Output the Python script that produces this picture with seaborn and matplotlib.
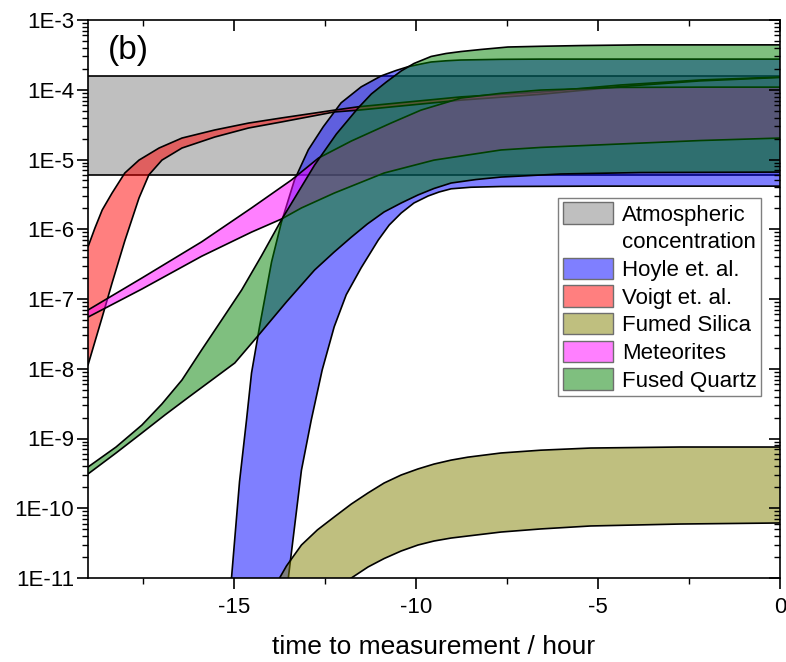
import numpy as np
import matplotlib
matplotlib.use("Agg")
import matplotlib.pyplot as plt
from matplotlib.patches import Patch
from matplotlib.ticker import FixedLocator, NullFormatter, LogLocator, FixedFormatter
import seaborn as sns

# ---- band edges: time to measurement (h) and concentration ----
atm_x = [-19.0, 0.0]
atm_low = [6.0e-6, 6.0e-6]
atm_high = [1.6e-4, 1.6e-4]

hoyle_hi_x = [-15.22, -15.06, -14.84, -14.65, -14.51, -14.29, -13.96, -13.69, -13.33, -12.95,
              -12.54, -12.05, -11.50, -10.95, -10.54, -10.21, -9.86, -9.58, -9.17, -8.76,
              -7.66, -6.57, 0.0]
hoyle_hi = [9.3e-13, 1.0e-11, 2.4e-10, 1.8e-9, 8.7e-9, 4.0e-8, 3.4e-7, 1.26e-6, 5.1e-6, 1.38e-5,
            2.95e-5, 6.5e-5, 1.10e-4, 1.58e-4, 1.89e-4, 2.14e-4, 2.34e-4, 2.5e-4, 2.6e-4, 2.67e-4,
            2.73e-4, 2.75e-4, 2.75e-4]
hoyle_lo_x = [-13.74, -13.50, -13.14, -12.87, -12.57, -12.24, -11.91, -11.50, -11.03, -10.73,
              -10.40, -10.05, -9.66, -9.36, -9.03, -8.49, -7.66, -4.93, 0.0]
hoyle_lo = [9.3e-13, 1.0e-11, 3.5e-10, 1.84e-9, 9.6e-9, 4.0e-8, 1.15e-7, 2.8e-7, 7.0e-7, 1.15e-6,
            1.71e-6, 2.38e-6, 3.0e-6, 3.42e-6, 3.8e-6, 4.0e-6, 4.1e-6, 4.15e-6, 4.15e-6]

voigt_hi_x = [-19.0, -18.81, -18.61, -18.34, -17.99, -17.60, -17.05, -16.42, -15.52, -14.59,
              -13.69, -12.24, -11.58, -8.76, -6.57, -4.38, -2.19, 0.0]
voigt_hi = [5.6e-7, 1.04e-6, 1.89e-6, 3.3e-6, 6.4e-6, 9.8e-6, 1.46e-5, 2.03e-5, 2.65e-5, 3.33e-5,
            3.94e-5, 5.1e-5, 5.7e-5, 7.9e-5, 9.3e-5, 1.17e-4, 1.38e-4, 1.52e-4]
voigt_lo_x = [-19.0, -18.61, -18.34, -17.99, -17.60, -17.33, -16.97, -16.42, -15.52, -14.59,
              -13.69, -12.24, -11.58, -8.76, -6.57, -4.38, -2.19, 0.0]
voigt_lo = [1.13e-8, 5.5e-8, 1.69e-7, 6.8e-7, 2.8e-6, 6.0e-6, 9.8e-6, 1.46e-5, 2.1e-5, 2.83e-5,
            3.45e-5, 4.8e-5, 5.1e-5, 7.1e-5, 8.6e-5, 1.11e-4, 1.34e-4, 1.50e-4]

fumed_hi_x = [-13.96, -13.55, -13.14, -12.70, -12.24, -11.77, -11.31, -10.87, -10.40, -9.94,
              -9.50, -9.03, -8.57, -7.66, -6.57, -5.20, -2.74, 0.0]
fumed_hi = [6.3e-12, 1.49e-11, 2.97e-11, 4.9e-11, 7.5e-11, 1.15e-10, 1.66e-10, 2.3e-10, 3.0e-10,
            3.66e-10, 4.3e-10, 4.9e-10, 5.4e-10, 6.2e-10, 6.8e-10, 7.3e-10, 7.55e-10, 7.55e-10]
fumed_lo_x = [-13.96, -13.14, -12.24, -11.77, -11.31, -10.87, -10.40, -9.94, -9.50, -9.03,
              -8.57, -7.66, -6.57, -5.20, -2.74, 0.0]
fumed_lo = [1.57e-12, 3.26e-12, 6.7e-12, 1.0e-11, 1.44e-11, 1.9e-11, 2.44e-11, 2.97e-11, 3.39e-11,
            3.74e-11, 4.0e-11, 4.56e-11, 5.05e-11, 5.57e-11, 5.94e-11, 6.15e-11]

meteor_hi_x = [-19.0, -17.52, -15.88, -14.51, -13.41, -12.67, -11.77, -10.68, -9.86, -8.76,
               -7.66, -6.57, -4.38, -2.19, 0.0]
meteor_hi = [6.95e-8, 2.0e-7, 6.6e-7, 2.02e-6, 5.1e-6, 1.05e-5, 1.84e-5, 3.33e-5, 5.1e-5, 7.6e-5,
             8.9e-5, 9.9e-5, 1.08e-4, 1.09e-4, 1.09e-4]
meteor_lo_x = [-19.0, -17.52, -15.88, -14.51, -13.69, -13.14, -12.24, -10.87, -9.50, -7.66,
               -6.57, -4.38, -2.19, 0.0]
meteor_lo = [5.5e-8, 1.39e-7, 4.1e-7, 9.1e-7, 1.40e-6, 2.02e-6, 3.3e-6, 6.4e-6, 9.8e-6, 1.37e-5,
             1.49e-5, 1.67e-5, 1.87e-5, 2.03e-5]

quartz_hi_x = [-19.0, -18.23, -17.52, -16.97, -16.42, -15.88, -15.33, -14.78, -14.24, -13.69,
               -12.78, -12.18, -11.58, -11.22, -10.81, -10.40, -10.05, -9.58, -9.17, -8.76,
               -8.21, -7.47, -6.57, -5.47, -3.83, 0.0]
quartz_hi = [3.9e-10, 7.55e-10, 1.56e-9, 3.13e-9, 6.9e-9, 1.86e-8, 5.0e-8, 1.35e-7, 4.13e-7, 1.36e-6,
             8.3e-6, 2.32e-5, 5.5e-5, 8.7e-5, 1.29e-4, 1.86e-4, 2.38e-4, 3.0e-4, 3.31e-4, 3.53e-4,
             3.78e-4, 4.1e-4, 4.2e-4, 4.3e-4, 4.4e-4, 4.4e-4]
quartz_lo_x = [-19.0, -18.23, -17.52, -16.89, -16.23, -15.60, -14.97, -14.29, -13.55, -12.78,
               -12.24, -11.77, -11.33, -10.87, -10.40, -9.94, -9.50, -9.03, -8.35, -7.66,
               -6.02, -3.83, 0.0]
quartz_lo = [3.1e-10, 6.2e-10, 1.2e-9, 2.17e-9, 3.94e-9, 6.9e-9, 1.21e-8, 3.15e-8, 9.1e-8, 2.6e-7,
             4.72e-7, 7.7e-7, 1.19e-6, 1.77e-6, 2.38e-6, 3.1e-6, 3.84e-6, 4.6e-6, 5.16e-6, 5.6e-6,
             6.2e-6, 6.5e-6, 6.6e-6]

labels = ["Atmospheric", "concentration", "Hoyle et. al.", "Voigt et. al.",
          "Fumed Silica", "Meteorites", "Fused Quartz"]
colors = {"atm": "#808080", "hoyle": "#0000ff", "voigt": "#ff0000",
          "fumed": "#808000", "meteor": "#ff00ff", "quartz": "#008000"}

x_ticks = [-15, -10, -5, 0]
x_tick_labels = ["-15", "-10", "-5", "0"]
x_minor = [-17.5, -12.5, -7.5, -2.5]
y_exps = list(range(-11, -2))
y_tick_labels = [f"1E{e}" for e in y_exps]

# ---- style ----
sns.set_theme(style="ticks")
plt.rcParams["font.family"] = ["Liberation Sans", "DejaVu Sans"]
plt.rcParams["axes.linewidth"] = 1.2
plt.rcParams["text.color"] = "black"
plt.rcParams["axes.labelcolor"] = "black"

fig = plt.figure(figsize=(7.86, 6.62), dpi=100)
ax = fig.add_axes([88 / 786, 1 - 578 / 662, 692 / 786, 558 / 662])
ax.set_yscale("log")
ax.set_xlim(-19, 0)
ax.set_ylim(1e-11, 1e-3)

bands = [
    ("atm", atm_x, atm_high, atm_x, atm_low),
    ("hoyle", hoyle_hi_x, hoyle_hi, hoyle_lo_x, hoyle_lo),
    ("voigt", voigt_hi_x, voigt_hi, voigt_lo_x, voigt_lo),
    ("fumed", fumed_hi_x, fumed_hi, fumed_lo_x, fumed_lo),
    ("meteor", meteor_hi_x, meteor_hi, meteor_lo_x, meteor_lo),
    ("quartz", quartz_hi_x, quartz_hi, quartz_lo_x, quartz_lo),
]

# each band: translucent fill, then its black outline, stacked in legend order
for i, (key, hx, hy, lx, ly) in enumerate(bands):
    z = 1.0 + 0.2 * i
    xs = np.concatenate([hx, lx[::-1]])
    ys = np.concatenate([hy, ly[::-1]])
    ax.fill(xs, ys, facecolor=colors[key], alpha=0.5, edgecolor="none", zorder=z)
    for ex, ey in ((hx, hy), (lx, ly)):
        sns.lineplot(x=ex, y=ey, ax=ax, color="black", linewidth=1.2, sort=False,
                     estimator=None, legend=False, zorder=z + 0.1)

# ---- axes, ticks ----
ax.xaxis.set_major_locator(FixedLocator(x_ticks))
ax.xaxis.set_major_formatter(FixedFormatter(x_tick_labels))
ax.xaxis.set_minor_locator(FixedLocator(x_minor))
ax.yaxis.set_major_locator(FixedLocator([10.0 ** e for e in y_exps]))
ax.yaxis.set_major_formatter(FixedFormatter(y_tick_labels))
ax.yaxis.set_minor_locator(LogLocator(base=10, subs=np.arange(2, 10), numticks=20))
ax.yaxis.set_minor_formatter(NullFormatter())
ax.tick_params(which="major", direction="out", length=8, width=1.2, labelsize=16,
               color="black", labelcolor="black", pad=2)
ax.tick_params(which="minor", direction="out", length=4, width=1.0, color="black")
ax.tick_params(axis="x", which="major", pad=6)
for s in ax.spines.values():
    s.set_color("black")
    s.set_linewidth(1.2)
    s.set_zorder(3)

axr = ax.twinx()
axr.set_yscale("log")
axr.set_ylim(ax.get_ylim())
axr.yaxis.set_major_locator(FixedLocator([10.0 ** e for e in y_exps]))
axr.yaxis.set_minor_locator(LogLocator(base=10, subs=np.arange(2, 10), numticks=20))
axr.yaxis.set_major_formatter(NullFormatter())
axr.yaxis.set_minor_formatter(NullFormatter())
axr.tick_params(which="major", direction="in", length=8, width=1.2, color="black")
axr.tick_params(which="minor", direction="in", length=4, width=1.0, color="black")

axt = ax.twiny()
axt.set_xlim(ax.get_xlim())
axt.xaxis.set_major_locator(FixedLocator(x_ticks))
axt.xaxis.set_minor_locator(FixedLocator(x_minor))
axt.xaxis.set_major_formatter(NullFormatter())
axt.tick_params(which="major", direction="in", length=8, width=1.2, color="black")
axt.tick_params(which="minor", direction="in", length=4, width=1.0, color="black")
for a in (axr, axt):
    for s in a.spines.values():
        s.set_visible(False)

ax.set_xlabel("time to measurement / hour", fontsize=19, labelpad=12, color="black")
ax.text(0.029, 0.946, "(b)", transform=ax.transAxes, fontsize=24, va="center", ha="left",
        color="black", zorder=6)

# ---- legend ----
edge = "#6e6e6e"
handles = [
    Patch(facecolor=(0.5, 0.5, 0.5, 0.5), edgecolor=edge, linewidth=1.0),
    Patch(facecolor="none", edgecolor="none"),
    Patch(facecolor=(0, 0, 1, 0.5), edgecolor=edge, linewidth=1.0),
    Patch(facecolor=(1, 0, 0, 0.5), edgecolor=edge, linewidth=1.0),
    Patch(facecolor=(0.5, 0.5, 0, 0.5), edgecolor=edge, linewidth=1.0),
    Patch(facecolor=(1, 0, 1, 0.5), edgecolor=edge, linewidth=1.0),
    Patch(facecolor=(0, 0.5, 0, 0.5), edgecolor=edge, linewidth=1.0),
]
leg = axt.legend(handles, labels, loc="upper right", bbox_to_anchor=(0.9725, 0.681),
                 bbox_transform=ax.transAxes, borderaxespad=0, fontsize=16,
                 handlelength=2.25, handleheight=1.1, labelspacing=0.2,
                 handletextpad=0.4, borderpad=0.2, fancybox=False, framealpha=1,
                 labelcolor="black")
leg.get_frame().set_edgecolor("#7f7f7f")
leg.get_frame().set_linewidth(1.0)
leg.set_zorder(10)

fig.savefig("out.png", dpi=100, facecolor="white")
